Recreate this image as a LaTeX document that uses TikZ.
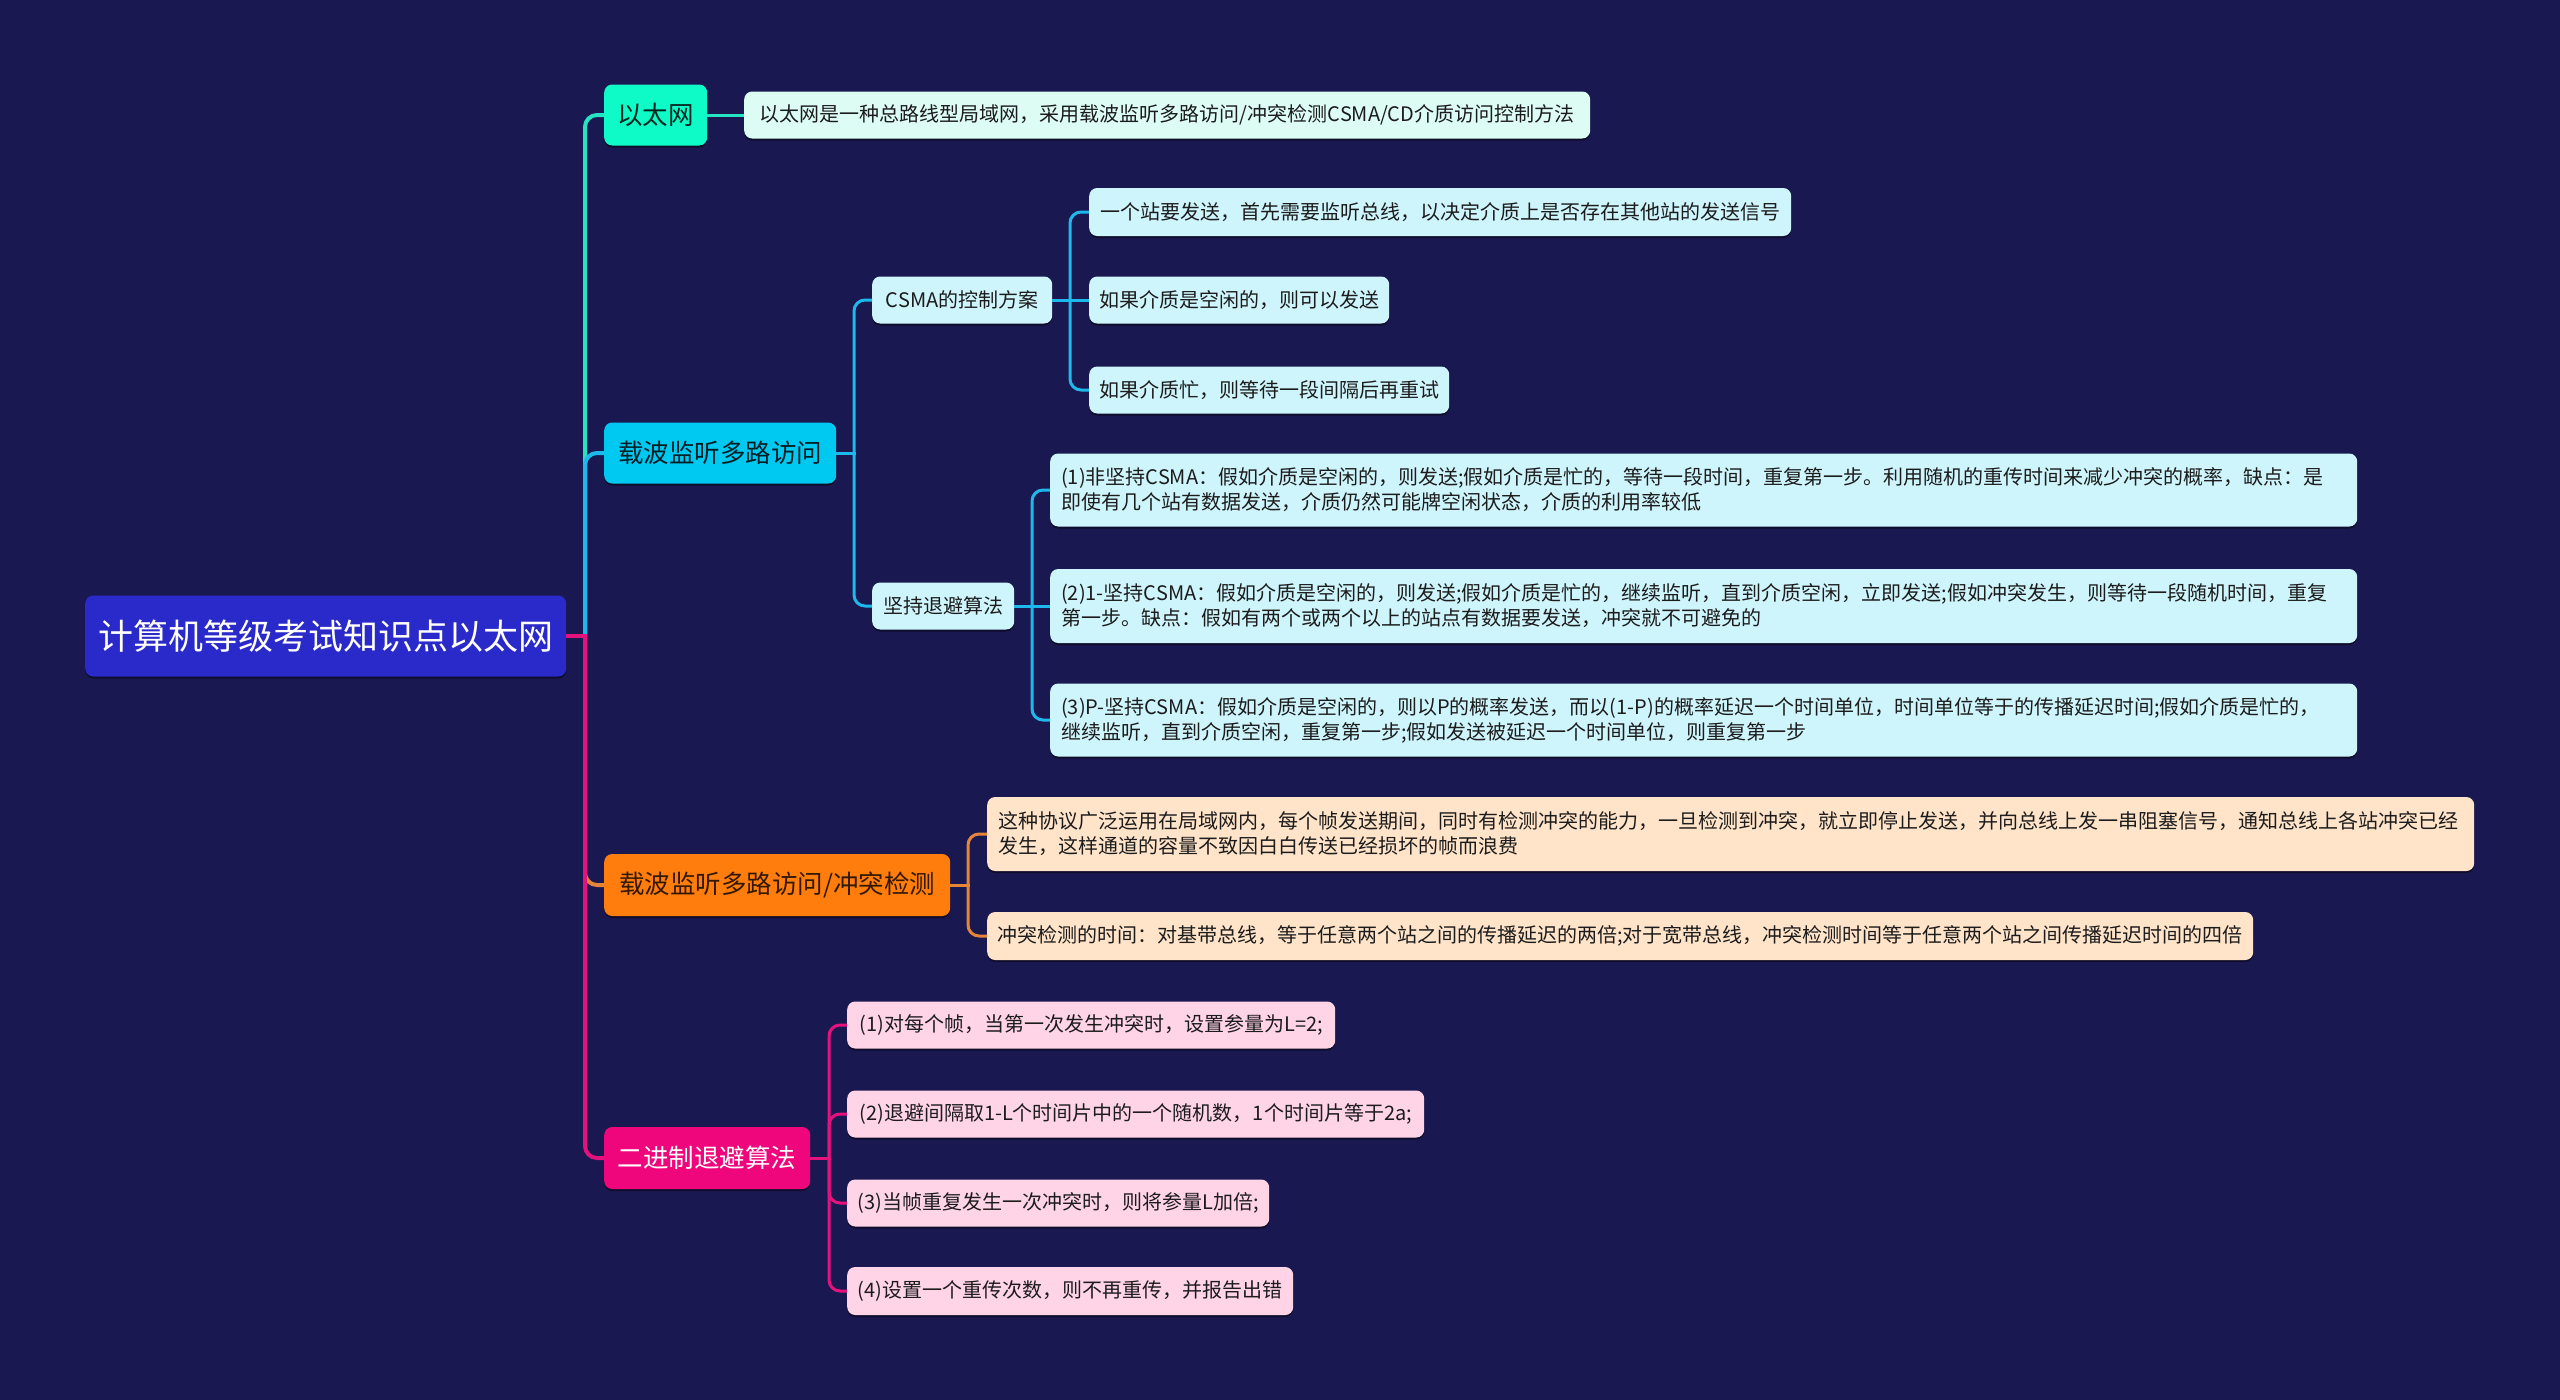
\documentclass[tikz,border=0pt]{standalone}
\usepackage{fontspec}
\setmainfont{Noto Sans CJK SC}
\usetikzlibrary{shadows}
\definecolor{bg}{HTML}{1A1850}
\definecolor{rootfill}{HTML}{2A29C9}
\definecolor{afill}{HTML}{0EFAC6}
\definecolor{bfill}{HTML}{00C9F1}
\definecolor{cfill}{HTML}{FF7D0C}
\definecolor{dfill}{HTML}{F0067C}
\definecolor{alight}{HTML}{DDFDF4}
\definecolor{blight}{HTML}{CFF5FC}
\definecolor{clight}{HTML}{FFE4CA}
\definecolor{dlight}{HTML}{FFD4E7}
\definecolor{aline}{HTML}{26E3C2}
\definecolor{bline}{HTML}{1CB9EA}
\definecolor{cline}{HTML}{E6843A}
\definecolor{dline}{HTML}{E3127D}
\definecolor{txt}{HTML}{1C1C1C}
\begin{document}
\begin{tikzpicture}[x=1pt,y=-1pt,
  box/.style={rounded corners=8pt, anchor=west, inner xsep=0pt, inner ysep=0pt,
    align=left, text=txt, font=\fontsize{20}{25}\selectfont,
    drop shadow={shadow xshift=0pt, shadow yshift=-2pt, opacity=0.45, fill=black}},
  twoline/.style={box, inner xsep=11pt},
  lone/.style={box, font=\fontsize{25.5}{30}\selectfont},
  conn/.style={line width=3pt, rounded corners=11pt},
  trunk/.style={line width=4pt, rounded corners=12pt}]
\fill[bg] (0,0) rectangle (2560,1400);
\useasboundingbox (0,0) rectangle (2560,1400);

% root
\node[box, fill=rootfill, text=white, font=\fontsize{35}{40}\selectfont,
  minimum width=481pt, minimum height=81pt] (root) at (85,636) {计算机等级考试知识点以太网};

% level 1
\node[lone, fill=afill, text={black!85!afill}, minimum width=103pt, minimum height=61pt] (A) at (604,115) {以太网};
\node[lone, fill=bfill, text={black!85!bfill}, minimum width=232pt, minimum height=61pt] (B) at (604,453) {载波监听多路访问};
\node[lone, fill=cfill, text={black!80!cfill}, minimum width=346pt, minimum height=62pt] (C) at (604,885) {载波监听多路访问/冲突检测};
\node[lone, fill=dfill, text=white, minimum width=206pt, minimum height=62pt] (D) at (604,1158) {二进制退避算法};

% A child
\node[box, fill=alight, minimum width=846pt, minimum height=47pt] (A1) at (744,115) {以太网是一种总路线型局域网，采用载波监听多路访问/冲突检测CSMA/CD介质访问控制方法};

% B children
\node[box, fill=blight, minimum width=180pt, minimum height=47pt] (B1) at (872,300) {CSMA的控制方案};
\node[box, fill=blight, minimum width=142pt, minimum height=47pt] (B2) at (872,606) {坚持退避算法};
\node[box, fill=blight, minimum width=702pt, minimum height=48pt] (B11) at (1089,212) {一个站要发送，首先需要监听总线，以决定介质上是否存在其他站的发送信号};
\node[box, fill=blight, minimum width=300pt, minimum height=47pt] (B12) at (1089,300) {如果介质是空闲的，则可以发送};
\node[box, fill=blight, minimum width=360pt, minimum height=47pt] (B13) at (1089,390) {如果介质忙，则等待一段间隔后再重试};
\node[twoline, fill=blight, text width=1285pt, minimum height=73pt] (B21) at (1050,490) {(1)非坚持CSMA：假如介质是空闲的，则发送;假如介质是忙的，等待一段时间，重复第一步。利用随机的重传时间来减少冲突的概率，缺点：是\\即使有几个站有数据发送，介质仍然可能牌空闲状态，介质的利用率较低};
\node[twoline, fill=blight, text width=1285pt, minimum height=74pt] (B22) at (1050,606) {(2)1-坚持CSMA：假如介质是空闲的，则发送;假如介质是忙的，继续监听，直到介质空闲，立即发送;假如冲突发生，则等待一段随机时间，重复\\第一步。缺点：假如有两个或两个以上的站点有数据要发送，冲突就不可避免的};
\node[twoline, fill=blight, text width=1285pt, minimum height=73pt] (B23) at (1050,720) {(3)P-坚持CSMA：假如介质是空闲的，则以P的概率发送，而以(1-P)的概率延迟一个时间单位，时间单位等于的传播延迟时间;假如介质是忙的，\\继续监听，直到介质空闲，重复第一步;假如发送被延迟一个时间单位，则重复第一步};

% C children
\node[twoline, fill=clight, text width=1465pt, minimum height=74pt] (C1) at (987,834) {这种协议广泛运用在局域网内，每个帧发送期间，同时有检测冲突的能力，一旦检测到冲突，就立即停止发送，并向总线上发一串阻塞信号，通知总线上各站冲突已经\\发生，这样通道的容量不致因白白传送已经损坏的帧而浪费};
\node[box, fill=clight, minimum width=1266pt, minimum height=48pt] (C2) at (987,936) {冲突检测的时间：对基带总线，等于任意两个站之间的传播延迟的两倍;对于宽带总线，冲突检测时间等于任意两个站之间传播延迟时间的四倍};

% D children
\node[box, fill=dlight, minimum width=488pt, minimum height=47pt] (D1) at (847,1025) {(1)对每个帧，当第一次发生冲突时，设置参量为L=2;};
\node[box, fill=dlight, minimum width=577pt, minimum height=47pt] (D2) at (847,1114) {(2)退避间隔取1-L个时间片中的一个随机数，1个时间片等于2a;};
\node[box, fill=dlight, minimum width=422pt, minimum height=47pt] (D3) at (847,1203) {(3)当帧重复发生一次冲突时，则将参量L加倍;};
\node[box, fill=dlight, minimum width=446pt, minimum height=48pt] (D4) at (847,1291) {(4)设置一个重传次数，则不再重传，并报告出错};

% junction coordinates
\coordinate (rj) at (585,636);
\coordinate (bj) at (854,453);
\coordinate (b1j) at (1070,300);
\coordinate (b2j) at (1032,606);
\coordinate (cj) at (968,885);
\coordinate (dj) at (829,1158);

% root branches
\draw[trunk, aline] (rj) |- (A.west);
\draw[trunk, bline] (rj) |- (B.west);
\draw[trunk, cline] (rj) |- (C.west);
\draw[trunk, dline] (rj) |- (D.west);
\draw[dline, line width=4pt] (root.east) -- ([xshift=2pt]rj);

% A
\draw[conn, aline] (A.east) -- (A1.west);

% B
\draw[conn, bline] (B.east) -- ([xshift=1.5pt]bj);
\draw[conn, bline] (bj) |- (B1.west);
\draw[conn, bline] (bj) |- (B2.west);
\draw[conn, bline] (B1.east) -- ([xshift=1.5pt]b1j);
\draw[conn, bline] (b1j) |- (B11.west);
\draw[conn, bline] (b1j) -- (B12.west);
\draw[conn, bline] (b1j) |- (B13.west);
\draw[conn, bline] (B2.east) -- ([xshift=1.5pt]b2j);
\draw[conn, bline] (b2j) |- (B21.west);
\draw[conn, bline] (b2j) -- (B22.west);
\draw[conn, bline] (b2j) |- (B23.west);

% C
\draw[conn, cline] (C.east) -- ([xshift=1.5pt]cj);
\draw[conn, cline] (cj) |- (C1.west);
\draw[conn, cline] (cj) |- (C2.west);

% D
\draw[conn, dline] (D.east) -- ([xshift=1.5pt]dj);
\draw[conn, dline] (dj) |- (D1.west);
\draw[conn, dline] (dj) |- (D2.west);
\draw[conn, dline] (dj) |- (D3.west);
\draw[conn, dline] (dj) |- (D4.west);
\end{tikzpicture}
\end{document}
